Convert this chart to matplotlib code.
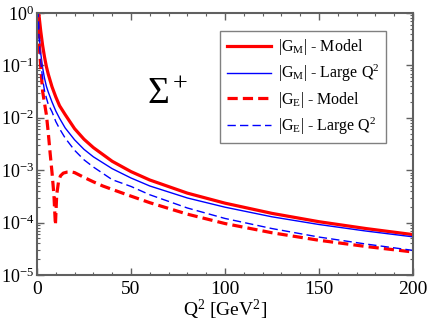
import numpy as np
import matplotlib
matplotlib.use("Agg")
import matplotlib.pyplot as plt
from matplotlib.ticker import MultipleLocator, LogLocator, NullFormatter

plt.rcParams['font.family'] = ['Liberation Serif', 'DejaVu Serif']
plt.rcParams['mathtext.fontset'] = 'custom'
plt.rcParams['mathtext.rm'] = 'Liberation Serif'
plt.rcParams['mathtext.it'] = 'Liberation Serif:italic'

# |G_M| - Model
q2_gm = [0, 1, 2, 3, 4, 5, 6, 8, 10, 12, 15, 20, 25, 30, 40, 50, 60, 80, 100, 125, 150, 175, 200]
gm_model = [2.46, 0.95, 0.45, 0.24, 0.145, 0.095, 0.068, 0.039, 0.025, 0.017, 0.0115, 0.0062,
            0.0039, 0.0027, 0.00148, 9.4e-4, 6.5e-4, 3.65e-4, 2.35e-4, 1.5e-4, 1.04e-4, 7.7e-5, 5.9e-5]

# |G_M| - Large Q^2
q2_gm_lq = [0.6, 1, 1.5, 2, 3, 4, 5, 6, 8, 10, 12, 15, 20, 25, 30, 40, 50, 60, 80, 100, 125, 150, 175, 200]
gm_large = [1.2, 0.5, 0.27, 0.17, 0.09, 0.057, 0.040, 0.031, 0.020, 0.0135, 0.0098, 0.0064, 0.0038,
            0.0025, 0.0018, 0.00107, 7.1e-4, 5.0e-4, 2.95e-4, 1.97e-4, 1.29e-4, 9.2e-5, 6.9e-5, 5.35e-5]

# |G_E| - Model
q2_ge = [0, 0.5, 1, 1.5, 2, 2.5, 3, 4, 5, 6, 7, 8, 9, 9.8, 10.5, 11.5, 12.5, 14, 16, 18, 20,
         25, 30, 35, 40, 50, 60, 80, 100, 125, 150, 175, 200]
ge_model = [1.0, 0.55, 0.3, 0.17, 0.095, 0.055, 0.032, 0.019, 0.0115, 0.0052, 0.0021, 9e-4, 3.4e-4,
            9e-5, 3.4e-4, 6.2e-4, 7.8e-4, 8.8e-4, 9.2e-4, 9.3e-4, 9.0e-4,
            7.3e-4, 6.0e-4, 5.0e-4, 4.3e-4, 3.2e-4, 2.4e-4, 1.45e-4, 9.6e-5, 6.4e-5, 4.6e-5, 3.5e-5, 2.75e-5]

# |G_E| - Large Q^2
q2_ge_lq = [0.5, 1, 1.5, 2, 3, 4, 5, 6, 8, 10, 12, 15, 20, 25, 30, 40, 50, 60, 80, 100, 125, 150, 175, 200]
ge_large = [1.2, 0.4, 0.2, 0.12, 0.055, 0.033, 0.024, 0.018, 0.013, 0.0085, 0.0062, 0.0041, 0.0024,
            0.00158, 0.00115, 6.6e-4, 4.9e-4, 3.4e-4, 1.9e-4, 1.2e-4, 7.7e-5, 5.3e-5, 3.9e-5, 2.95e-5]

fig = plt.figure(figsize=(4.29, 3.24), dpi=100)
ax = fig.add_axes([0.0862, 0.1512, 0.8765, 0.8087])

ax.plot(q2_gm, gm_model, color='#ff0000', lw=2.3, label='|G$_{\\rm M}$| - Model')
ax.plot(q2_gm_lq, gm_large, color='#0000ff', lw=1.0, label='|G$_{\\rm M}$| - Large Q$^2$')
ax.plot(q2_ge, ge_model, color='#ff0000', lw=2.3, dashes=(3.2, 1.6), label='|G$_{\\rm E}$| - Model')
ax.plot(q2_ge_lq, ge_large, color='#0000ff', lw=1.0, dashes=(6, 3), label='|G$_{\\rm E}$| - Large Q$^2$')

ax.set_yscale('log')
ax.set_xlim(0, 200)
ax.set_ylim(1e-5, 1)
ax.xaxis.set_major_locator(MultipleLocator(50))
ax.xaxis.set_minor_locator(MultipleLocator(10))
ax.yaxis.set_major_locator(LogLocator(base=10, numticks=10))
ax.yaxis.set_minor_locator(LogLocator(base=10, subs=np.arange(2, 10), numticks=10))
ax.yaxis.set_minor_formatter(NullFormatter())

for s in ax.spines.values():
    s.set_color('#606060')
    s.set_linewidth(1.5)
ax.tick_params(which='both', direction='in', top=True, right=True, color='#606060')
ax.tick_params(axis='x', labelsize=14, pad=4)
ax.tick_params(axis='y', labelsize=13, pad=2)
ax.tick_params(which='major', length=5, width=1.0)
ax.tick_params(which='minor', length=2.5, width=0.8)

ax.set_xlabel('Q$^2$ [GeV$^2$]', fontsize=14, labelpad=0)
ax.text(0.292, 0.655, '$\\Sigma^+$', transform=ax.transAxes, fontsize=27)

leg = ax.legend(loc='upper right', bbox_to_anchor=(0.928, 0.931), borderaxespad=0, fontsize=11.5,
                frameon=True, fancybox=False, handlelength=2.8, handletextpad=0.4, borderpad=0.4,
                labelspacing=0.35)
leg.get_frame().set_edgecolor('#606060')
leg.get_frame().set_linewidth(1.0)

fig.savefig('out.png', dpi=100)
